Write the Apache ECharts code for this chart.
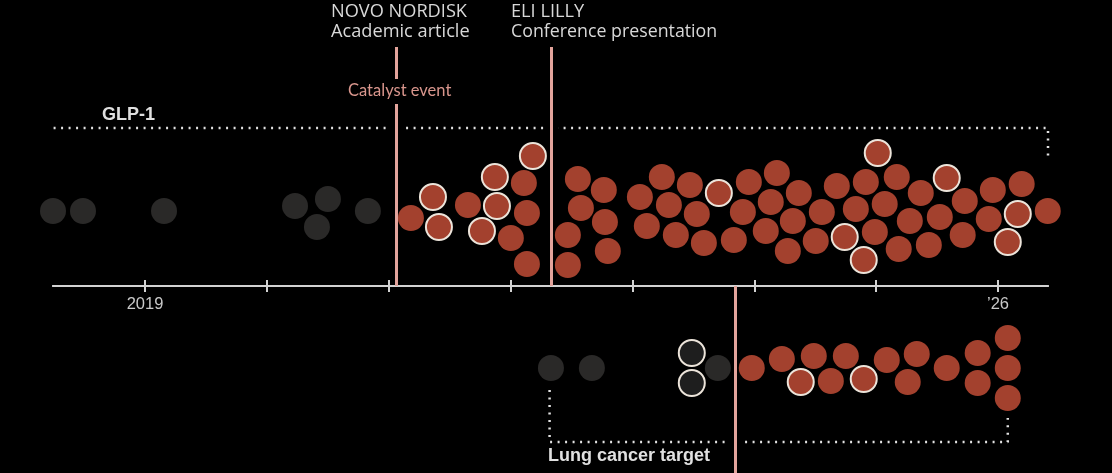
<!DOCTYPE html>
<html>
<head>
<meta charset="utf-8">
<script src="https://cdn.jsdelivr.net/npm/echarts@6/dist/echarts.min.js"></script>
<style>
html, body { margin: 0; padding: 0; background: #000; }
#chart { width: 1112px; height: 473px; }
</style>
</head>
<body>
<div id="chart"></div>
<script>
// x = date as decimal year, y = offset from the swarm's centre line
var glpGray = [[2018.245, 0], [2018.491, 0], [2019.156, 0], [2020.231, 0.5], [2020.411, -1.6], [2020.501, 1.2], [2020.829, 0]];
var glpRed = [
    [2021.182, -0.7], [2021.650, 0.6], [2022.109, 2.8], [2022.134, -0.2], [2022.002, -2.7], [2022.134, -5.3],
    [2022.552, 3.2], [2022.765, 2.1], [2022.577, 0.3], [2022.774, -1.1], [2022.470, -2.4], [2022.798, -4.0], [2022.470, -5.4],
    [2023.061, 1.4], [2023.241, 3.4], [2023.118, -1.5], [2023.299, 0.6], [2023.471, 2.6], [2023.528, -0.3], [2023.356, -2.4],
    [2023.586, -3.2], [2023.832, -2.9], [2023.906, -0.1], [2023.955, 2.9], [2024.185, 3.8], [2024.135, 0.9], [2024.094, -2.0],
    [2024.365, 1.8], [2024.316, -1.0], [2024.275, -4.0], [2024.554, -0.1], [2024.504, -3.0], [2024.677, 2.5],
    [2024.915, 2.9], [2025.169, 3.4], [2024.833, 0.2], [2025.070, 0.7], [2024.989, -2.1], [2025.366, 1.8], [2025.276, -1.0],
    [2025.185, -3.8], [2025.522, -0.6], [2025.432, -3.4], [2025.727, 1.0], [2025.710, -2.4], [2025.957, 2.1], [2025.924, -0.8],
    [2026.194, 2.7], [2026.408, 0]
];
var glpRedMarked = [
    [2021.363, 1.4], [2021.412, -1.6], [2021.871, 3.4], [2021.888, 0.5], [2021.765, -2.0], [2022.183, 5.5],
    [2023.709, 1.8], [2024.742, -2.6], [2025.013, 5.8], [2024.898, -4.9], [2025.579, 3.3], [2026.162, -0.3], [2026.080, -3.1]
];
var lungGray = [[2022.331, 0], [2022.667, 0], [2023.701, 0]];
var lungGrayMarked = [[2023.487, 1.5], [2023.487, -1.5]];
var lungRed = [
    [2023.979, 0], [2024.226, 0.9], [2024.488, 1.2], [2024.628, -1.3], [2024.751, 1.2], [2025.087, 0.8], [2025.259, -1.4],
    [2025.333, 1.4], [2025.579, 0], [2025.833, 1.5], [2025.833, -1.5], [2026.080, 3.0], [2026.080, 0], [2026.080, -3.0]
];
var lungRedMarked = [[2024.381, -1.4], [2024.898, -1.1]];

// catalyst events: novo nordisk, eli lilly, lung cancer target
var eventYears = [2021.059, 2022.331, 2023.840];
var tickYears = [2019, 2020, 2021, 2022, 2023, 2024, 2025, 2026];
var labelYears = [2019, 2026];
var glpSpan = [2018.18, 2026.41];
var lungSpan = [2022.32, 2026.08];

var GLP_BASE = 7.5;
var LUNG_BASE = -8.2;
var AXIS_MIN = 2018.245;
var AXIS_MAX = 2026.41;

var RED = '#a3412e';
var GRAY = '#2a2928';
var RING = '#ece4da';
var PINK = '#e3a49c';
var DOTS = '#e2e2e2';
var AXIS = '#d2d2d2';

function shift(list, base) {
    return list.map(function (d) { return [d[0], d[1] + base]; });
}

function dotSeries(list, base, color, marked, grid) {
    return {
        type: 'scatter',
        xAxisIndex: grid === 0 ? 0 : 2,
        yAxisIndex: grid,
        data: shift(list, base),
        symbolSize: 26,
        clip: false,
        silent: true,
        z: 3,
        itemStyle: marked ? { color: color, borderColor: RING, borderWidth: 2, opacity: 1 } : { color: color, opacity: 1 }
    };
}

var dotted = { color: DOTS, width: 2.5, type: [2, 5.5] };
var tickLine = { color: AXIS, width: 2 };

var chart = echarts.init(document.getElementById('chart'));
chart.setOption({
    backgroundColor: '#000',
    animation: false,
    grid: [
        { left: 53, right: 64, top: 6, height: 280, outerBoundsMode: 'none' },
        { left: 53, right: 64, top: 286, bottom: 0, outerBoundsMode: 'none' }
    ],
    xAxis: [{
        type: 'value',
        gridIndex: 0,
        position: 'bottom',
        min: AXIS_MIN,
        max: AXIS_MAX,
        axisLine: { onZero: false, lineStyle: tickLine },
        axisTick: { customValues: tickYears, length: 6, lineStyle: tickLine },
        axisLabel: {
            customValues: labelYears,
            margin: 10,
            color: '#c9c9c9',
            fontSize: 16.5,
            fontFamily: 'Liberation Sans',
            formatter: function (v) { return v === 2019 ? '2019' : '\u2019' + String(v).slice(2); }
        },
        splitLine: { show: false }
    }, {
        type: 'value',
        gridIndex: 0,
        position: 'bottom',
        min: AXIS_MIN,
        max: AXIS_MAX,
        axisLine: { onZero: false, lineStyle: tickLine },
        axisTick: { inside: true, customValues: tickYears, length: 6, lineStyle: tickLine },
        axisLabel: { show: false },
        splitLine: { show: false }
    }, {
        type: 'value',
        gridIndex: 1,
        min: AXIS_MIN,
        max: AXIS_MAX,
        show: false
    }],
    yAxis: [
        { type: 'value', gridIndex: 0, min: 0, max: 28, show: false },
        { type: 'value', gridIndex: 1, min: -18.7, max: 0, show: false }
    ],
    series: [
        {
            type: 'line',
            xAxisIndex: 0,
            yAxisIndex: 0,
            z: 1,
            silent: true,
            symbol: 'none',
            lineStyle: dotted,
            data: [[glpSpan[0], 12.9], [glpSpan[0], 15.8], [glpSpan[1], 15.8], [glpSpan[1], 12.9]],
            markLine: {
                z: 2,
                silent: true,
                symbol: 'none',
                label: { show: false },
                lineStyle: { color: '#000', width: 14, type: 'solid', opacity: 1 },
                data: [
                    [{ coord: [eventYears[0], 14.8] }, { coord: [eventYears[0], 16.8] }],
                    [{ coord: [eventYears[1], 14.8] }, { coord: [eventYears[1], 16.8] }]
                ]
            }
        },
        {
            type: 'line',
            xAxisIndex: 2,
            yAxisIndex: 1,
            z: 1,
            silent: true,
            symbol: 'none',
            lineStyle: dotted,
            data: [[lungSpan[0], -10.4], [lungSpan[0], -15.6], [lungSpan[1], -15.6], [lungSpan[1], -13.2]],
            markLine: {
                z: 2,
                silent: true,
                symbol: 'none',
                label: { show: false },
                lineStyle: { color: '#000', width: 20, type: 'solid', opacity: 1 },
                data: [
                    [{ coord: [eventYears[2], -14.6] }, { coord: [eventYears[2], -16.6] }]
                ]
            }
        },
        dotSeries(glpGray, GLP_BASE, GRAY, false, 0),
        dotSeries(glpRed, GLP_BASE, RED, false, 0),
        dotSeries(glpRedMarked, GLP_BASE, RED, true, 0),
        dotSeries(lungGray, LUNG_BASE, GRAY, false, 1),
        dotSeries(lungGrayMarked, LUNG_BASE, '#1e1e1e', true, 1),
        dotSeries(lungRed, LUNG_BASE, RED, false, 1),
        dotSeries(lungRedMarked, LUNG_BASE, RED, true, 1),
        {
            type: 'scatter',
            xAxisIndex: 0,
            yAxisIndex: 0,
            data: [],
            markLine: {
                z: 4,
                silent: true,
                symbol: 'none',
                label: { show: false },
                lineStyle: { color: PINK, width: 3, type: 'solid', opacity: 1 },
                data: [
                    [{ coord: [eventYears[0], 0] }, { coord: [eventYears[0], 18.2] }],
                    [{ coord: [eventYears[0], 20.7] }, { coord: [eventYears[0], 23.9] }],
                    [{ coord: [eventYears[1], 0] }, { coord: [eventYears[1], 23.9] }]
                ]
            }
        },
        {
            type: 'scatter',
            xAxisIndex: 2,
            yAxisIndex: 1,
            data: [],
            markLine: {
                z: 4,
                silent: true,
                symbol: 'none',
                label: { show: false },
                lineStyle: { color: PINK, width: 3, type: 'solid', opacity: 1 },
                data: [
                    [{ coord: [eventYears[2], 0] }, { coord: [eventYears[2], -18.7] }]
                ]
            }
        }
    ],
    graphic: [
        { type: 'text', left: 331, top: 3, style: { text: 'NOVO NORDISK', fill: '#d8d8d8', font: '18.2px "Open Sans"' } },
        { type: 'text', left: 331, top: 23, style: { text: 'Academic article', fill: '#d8d8d8', font: '18.2px "Open Sans"' } },
        { type: 'text', left: 511, top: 3, style: { text: 'ELI LILLY', fill: '#d8d8d8', font: '18.2px "Open Sans"' } },
        { type: 'text', left: 511, top: 23, style: { text: 'Conference presentation', fill: '#d8d8d8', font: '17.8px "Open Sans"' } },
        { type: 'text', left: 348, top: 82, style: { text: 'Catalyst event', fill: '#d9968d', font: '16.5px Lato' } },
        { type: 'text', left: 102, top: 106, style: { text: 'GLP-1', fill: '#e0e0e0', font: 'bold 18px "Liberation Sans"' } },
        { type: 'text', left: 548, top: 447, style: { text: 'Lung cancer target', fill: '#e0e0e0', font: 'bold 18px "Liberation Sans"' } }
    ]
});
</script>
</body>
</html>
